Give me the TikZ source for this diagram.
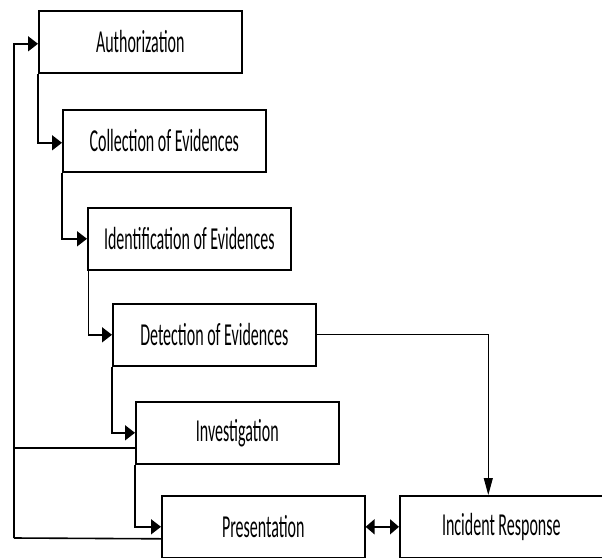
\documentclass[tikz,border=0pt]{standalone}
\usepackage{fontspec}
\setmainfont[FakeStretch=0.5]{Carlito}
\usetikzlibrary{arrows.meta}
\begin{document}
\begin{tikzpicture}[x=1pt,y=-1pt,
  box/.style={draw, line width=1.6pt, minimum width=203pt, minimum height=62pt,
    anchor=north west, inner sep=0pt, font=\fontsize{32}{34}\selectfont},
  conn/.style={line width=1.6pt, -{Triangle[length=10pt,width=15pt]}},
  thin/.style={line width=1pt, -{Triangle[length=17pt,width=9pt]}},
  dbl/.style={line width=1.6pt, {Triangle[length=9pt,width=15pt]}-{Triangle[length=9pt,width=15pt]}}
]
\useasboundingbox (0,0) rectangle (602,557);
\clip (0,0) rectangle (602,557);
\node[box] (auth) at (38,10) {Authorization};
\node[box] (coll) at (62,109) {Collection of Evidences};
\node[box] (ident) at (87,207) {Identification of Evidences};
\node[box] (det) at (112,303) {Detection of Evidences};
\node[box] (inv) at (135,401) {Investigation};
\node[box] (pres) at (161,495) {Presentation};
\node[box] (ir) at (399,495) {Incident Response};

\draw[conn] (auth.south west) |- ([yshift=-2pt]coll.west);
\draw[conn] (coll.south west) |- (ident.west);
\draw[conn] ([xshift=1.5pt]ident.south west) |- (det.west);
\draw[conn] (det.south west) |- (inv.west);
\draw[conn] (inv.south west) |- (pres.west);
\draw[thin] (det.east) -| ([xshift=-13pt]ir.north);
\draw[dbl] (pres.east) -- (ir.west);

\coordinate (lb) at (14,538);
\coordinate (ia) at ([yshift=-15pt]inv.west);
\draw[line width=1.6pt] ([yshift=-12pt]pres.west) -- (lb);
\draw[line width=1.6pt] (ia) -- (ia -| lb);
\draw[conn] (lb) |- ([yshift=-2pt]auth.west);
\end{tikzpicture}
\end{document}
